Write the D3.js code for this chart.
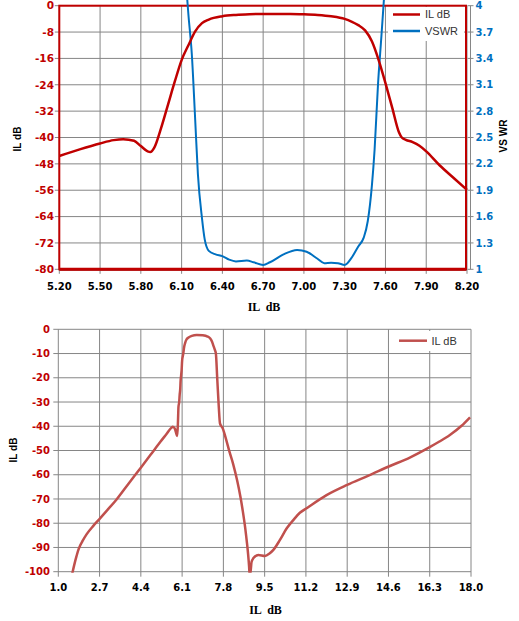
<!DOCTYPE html>
<html>
<head>
<meta charset="utf-8">
<script src="https://cdn.jsdelivr.net/npm/d3@7"></script>
<style>
  body { margin: 0; background: #fff; }
  svg { display: block; }
  .tick-y { font: bold 10.5px "DejaVu Sans", sans-serif; fill: #c00000; }
  .tick-x { font: bold 10px "DejaVu Sans", sans-serif; fill: #000; }
  .tick-r { font: bold 10px "DejaVu Sans", sans-serif; fill: #0070c0; }
  .ytitle { font: bold 10px "Liberation Sans", sans-serif; fill: #000; }
  .xtitle { font: bold 12px "Liberation Serif", serif; fill: #000; }
  .legend { font: 11px "Liberation Sans", sans-serif; fill: #333; }
</style>
</head>
<body>
<div id="chart"></div>
<script>
// top chart: passband detail, IL dB (left axis) and VSWR (right axis)
const topTicksX = [5.2, 5.5, 5.8, 6.1, 6.4, 6.7, 7.0, 7.3, 7.6, 7.9, 8.2];
const topTicksIL = [0, -8, -16, -24, -32, -40, -48, -56, -64, -72, -80];
const topTicksVswr = [1, 1.3, 1.6, 1.9, 2.2, 2.5, 2.8, 3.1, 3.4, 3.7, 4];

const topFreq = [5.2, 5.35, 5.5, 5.6, 5.67, 5.75, 5.8, 5.85, 5.87, 5.9, 5.95, 6.0, 6.05, 6.1, 6.15,
  6.2, 6.25, 6.3, 6.4, 6.5, 6.6, 6.7, 6.8, 6.9, 7.0, 7.1, 7.2, 7.3, 7.35, 7.4, 7.45, 7.5, 7.55,
  7.6, 7.65, 7.7, 7.72, 7.75, 7.8, 7.85, 7.9, 8.0, 8.1, 8.2];
const topIL = [-45.6, -43.6, -41.8, -40.8, -40.5, -41.0, -42.6, -44.2, -44.4, -43.0, -37.0, -30.0,
  -23.0, -16.5, -12.0, -7.8, -5.3, -4.2, -3.2, -2.8, -2.6, -2.5, -2.5, -2.5, -2.6, -2.8, -3.2,
  -4.0, -4.8, -5.9, -7.5, -10.8, -16.5, -23.5, -31.0, -38.5, -40.0, -40.7, -41.4, -42.5, -44.2,
  -48.5, -52.2, -55.9];

const vswrFreq = [6.14, 6.15, 6.175, 6.2, 6.22, 6.25, 6.27, 6.3, 6.35, 6.4, 6.45, 6.5, 6.58, 6.63,
  6.7, 6.75, 6.85, 6.95, 7.02, 7.1, 7.15, 7.2, 7.25, 7.3, 7.35, 7.4, 7.44, 7.47, 7.5, 7.52, 7.545,
  7.57, 7.59];
const vswrVals = [4.1, 3.9, 3.45, 2.7, 2.08, 1.58, 1.34, 1.21, 1.17, 1.15, 1.11, 1.09, 1.10, 1.08,
  1.05, 1.08, 1.17, 1.22, 1.20, 1.12, 1.07, 1.075, 1.07, 1.05, 1.13, 1.26, 1.36, 1.55, 1.95, 2.36,
  3.1, 3.65, 4.1];

// bottom chart: wideband IL dB
const botTicksX = [1.0, 2.7, 4.4, 6.1, 7.8, 9.5, 11.2, 12.9, 14.6, 16.3, 18.0];
const botTicksY = [0, -10, -20, -30, -40, -50, -60, -70, -80, -90, -100];
const botFreq = [1.57, 1.65, 1.75, 1.82, 1.9, 2.0, 2.17, 2.45, 2.72, 3.0, 3.4, 3.9, 4.43, 4.8,
  5.19, 5.45, 5.67, 5.72, 5.8, 5.88, 5.9, 5.93, 5.95, 5.98, 6.0, 6.02, 6.04, 6.06, 6.08, 6.1, 6.13,
  6.15, 6.18, 6.22, 6.28, 6.35, 6.5, 6.7, 6.95, 7.15, 7.25, 7.33, 7.38, 7.45, 7.49, 7.55, 7.61,
  7.66, 7.72, 7.77, 7.9, 8.05, 8.2, 8.37, 8.5, 8.6, 8.7, 8.77, 8.82, 8.86, 8.88, 8.92, 8.96, 9.03,
  9.24, 9.51, 9.7, 9.86, 10.13, 10.41, 10.68, 10.95, 11.23, 12.05, 12.9, 13.8, 14.59, 15.5, 16.28,
  16.7, 17.13, 17.6, 17.96];
const botIL = [-101, -97.5, -93.6, -91.2, -89.2, -87.3, -84.5, -81, -78, -74.8, -70.2, -63.6, -56.7,
  -51.8, -46.6, -43.3, -40.5, -40.2, -41, -43.6, -44, -38, -32, -30, -27, -25, -21, -19, -16.8, -13,
  -11, -9.9, -7.5, -5.8, -4.2, -3.5, -2.7, -2.35, -2.5, -3.0, -3.7, -5.0, -6.5, -8.5, -9.9, -20.9,
  -31.9, -38.8, -40, -40.8, -45, -50.5, -55.5, -62.5, -69, -75, -82, -88, -93, -98, -101, -100,
  -96, -94.5, -93.1, -93.5, -92.5, -91, -86.9, -82.1, -78.7, -75.7, -73.8, -68.4, -64.2, -60.3,
  -56.7, -52.8, -48.7, -46.3, -43.6, -39.9, -36.3];

const width = 519, height = 621;
const gridColor = "#868686";
const svg = d3.select("#chart").append("svg").attr("width", width).attr("height", height);

// ---------- top chart ----------
const tL = 59.3, tR = 467, tT = 5.7, tB = 269.3;
const x1 = d3.scaleLinear().domain([5.2, 8.2]).range([tL, tR]);
const y1 = d3.scaleLinear().domain([-80, 0]).range([tB, tT]);
const y1r = d3.scaleLinear().domain([1, 4]).range([tB, tT]);

const g1 = svg.append("g");
g1.selectAll("line.vg").data(topTicksX).enter().append("line")
  .attr("x1", d => x1(d)).attr("x2", d => x1(d)).attr("y1", tT).attr("y2", tB + 4.5)
  .attr("stroke", gridColor).attr("stroke-width", 1);
g1.selectAll("line.hg").data(topTicksIL).enter().append("line")
  .attr("x1", tL - 4.5).attr("x2", tR).attr("y1", d => y1(d)).attr("y2", d => y1(d))
  .attr("stroke", gridColor).attr("stroke-width", 1);
// right (secondary) axis, gray with crossing ticks
g1.append("line").attr("x1", 470.5).attr("x2", 470.5).attr("y1", tT).attr("y2", tB)
  .attr("stroke", gridColor);
g1.selectAll("line.rt").data(topTicksVswr).enter().append("line")
  .attr("x1", 467.5).attr("x2", 473.5).attr("y1", d => y1r(d)).attr("y2", d => y1r(d))
  .attr("stroke", gridColor);
g1.append("line").attr("x1", tL).attr("x2", tR).attr("y1", tB + 1).attr("y2", tB + 1)
  .attr("stroke", gridColor);

// red plot-area frame
g1.append("rect").attr("x", tL).attr("y", tT).attr("width", 466 - tL).attr("height", tB - tT)
  .attr("fill", "none").attr("stroke", "#c00000").attr("stroke-width", 2);
g1.append("line").attr("x1", tL).attr("x2", 466).attr("y1", tB).attr("y2", tB)
  .attr("stroke", "#c00000").attr("stroke-width", 3);

g1.selectAll("text.ty").data(topTicksIL).enter().append("text").attr("class", "tick-y")
  .attr("x", 54).attr("y", d => y1(d)).attr("dy", "0.36em").attr("text-anchor", "end")
  .text(d => d);
g1.selectAll("text.tx").data(topTicksX).enter().append("text").attr("class", "tick-x")
  .attr("x", d => x1(d)).attr("y", 290).attr("text-anchor", "middle")
  .text(d => d.toFixed(2));
g1.selectAll("text.tr").data(topTicksVswr).enter().append("text").attr("class", "tick-r")
  .attr("x", 475.5).attr("y", d => y1r(d)).attr("dy", "0.36em")
  .text(d => d3.format("~g")(d));

g1.append("text").attr("class", "ytitle").attr("text-anchor", "middle")
  .attr("transform", "translate(21,139) rotate(-90)").text("IL dB");
g1.append("text").attr("class", "ytitle").attr("text-anchor", "middle")
  .attr("transform", "translate(507,136) rotate(-90)").text("VS WR");
g1.append("text").attr("class", "xtitle").attr("text-anchor", "middle")
  .attr("x", 264).attr("y", 310.5).attr("xml:space", "preserve").text("IL  dB");

svg.append("clipPath").attr("id", "clipTop").append("rect")
  .attr("x", tL).attr("y", 0).attr("width", tR - tL).attr("height", tB);

const ilLine = d3.line().x((d, i) => x1(topFreq[i])).y(d => y1(d)).curve(d3.curveMonotoneX);
const vsLine = d3.line().x((d, i) => x1(vswrFreq[i])).y(d => y1r(d)).curve(d3.curveMonotoneX);

g1.append("path").datum(vswrVals).attr("d", vsLine).attr("clip-path", "url(#clipTop)")
  .attr("fill", "none").attr("stroke", "#0070c0").attr("stroke-width", 2);
g1.append("path").datum(topIL).attr("d", ilLine)
  .attr("fill", "none").attr("stroke", "#c00000").attr("stroke-width", 2.5);

// legend
g1.append("rect").attr("x", 388).attr("y", 7).attr("width", 76).attr("height", 34).attr("fill", "#fff");
g1.append("line").attr("x1", 393).attr("x2", 420).attr("y1", 14.5).attr("y2", 14.5)
  .attr("stroke", "#c00000").attr("stroke-width", 2.5);
g1.append("text").attr("class", "legend").attr("x", 425).attr("y", 14.5).attr("dy", "0.35em").text("IL dB");
g1.append("line").attr("x1", 393).attr("x2", 420).attr("y1", 31).attr("y2", 31)
  .attr("stroke", "#0070c0").attr("stroke-width", 2.5);
g1.append("text").attr("class", "legend").attr("x", 425).attr("y", 31).attr("dy", "0.35em").text("VSWR");

// ---------- bottom chart ----------
const bL = 58.3, bR = 471, bT = 329.3, bB = 571.7;
const x2 = d3.scaleLinear().domain([1, 18]).range([bL, bR]);
const y2 = d3.scaleLinear().domain([-100, 0]).range([bB, bT]);

const g2 = svg.append("g");
g2.selectAll("line.vg").data(botTicksX).enter().append("line")
  .attr("x1", d => x2(d)).attr("x2", d => x2(d)).attr("y1", bT).attr("y2", bB + 5)
  .attr("stroke", gridColor);
g2.selectAll("line.hg").data(botTicksY).enter().append("line")
  .attr("x1", bL - 5).attr("x2", bR).attr("y1", d => y2(d)).attr("y2", d => y2(d))
  .attr("stroke", gridColor);

g2.selectAll("text.ty").data(botTicksY).enter().append("text").attr("class", "tick-y")
  .style("font-size", "10px")
  .attr("x", 50).attr("y", d => y2(d)).attr("dy", "0.36em").attr("text-anchor", "end")
  .text(d => d);
g2.selectAll("text.tx").data(botTicksX).enter().append("text").attr("class", "tick-x")
  .attr("x", d => x2(d)).attr("y", 591).attr("text-anchor", "middle")
  .text(d => d.toFixed(1));

g2.append("text").attr("class", "ytitle").attr("text-anchor", "middle")
  .attr("transform", "translate(17,450) rotate(-90)").text("IL dB");
g2.append("text").attr("class", "xtitle").attr("text-anchor", "middle")
  .attr("x", 265.5).attr("y", 614).attr("xml:space", "preserve").text("IL  dB");

svg.append("clipPath").attr("id", "clipBot").append("rect")
  .attr("x", bL).attr("y", bT - 2).attr("width", bR - bL).attr("height", bB - bT + 3);

const botLine = d3.line().x((d, i) => x2(botFreq[i])).y(d => y2(d)).curve(d3.curveMonotoneX);
g2.append("path").datum(botIL).attr("d", botLine).attr("clip-path", "url(#clipBot)")
  .attr("fill", "none").attr("stroke", "#c0504d").attr("stroke-width", 2.5);

g2.append("rect").attr("x", 393).attr("y", 331).attr("width", 72).attr("height", 20).attr("fill", "#fff");
g2.append("line").attr("x1", 399).attr("x2", 427).attr("y1", 340.7).attr("y2", 340.7)
  .attr("stroke", "#c0504d").attr("stroke-width", 2.5);
g2.append("text").attr("class", "legend").attr("x", 431.5).attr("y", 340.7).attr("dy", "0.35em").text("IL dB");
</script>
</body>
</html>
